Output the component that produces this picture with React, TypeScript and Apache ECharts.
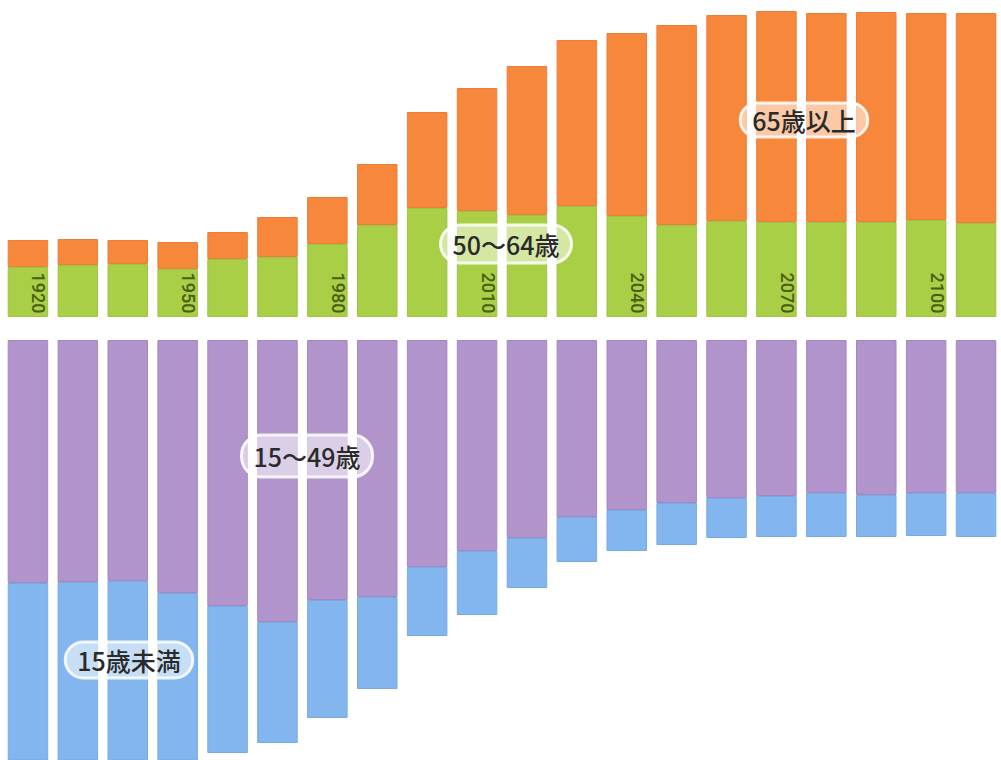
import React, { useEffect, useRef } from "react";
import * as echarts from "echarts";

const years = ["1920","1930","1940","1950","1960","1970","1980","1990","2000","2010","2020","2030","2040","2050","2060","2070","2080","2090","2100","2110"];
const age65plus = [5.4,5.2,4.8,5.4,5.4,8.0,9.4,12.2,19.2,24.6,29.8,33.2,36.6,40.0,41.2,42.2,41.8,42.0,41.4,42.0];
const age50to64 = [10.0,10.4,10.6,9.6,11.6,12.0,14.6,18.4,21.8,21.2,20.4,22.2,20.2,18.4,19.2,19.0,19.0,19.0,19.4,18.8];
const age15to49 = [48.6,48.4,48.2,50.6,53.2,56.4,52.0,51.4,45.4,42.2,39.6,35.4,34.0,32.6,31.6,31.2,30.6,31.0,30.6,30.6];
const under15 = [36.0,36.0,36.4,34.4,29.4,24.2,23.6,18.4,13.8,12.8,10.0,9.0,8.2,8.4,8.0,8.2,8.8,8.4,8.6,8.8];
const labeledYears = ["1920","1950","1980","2010","2040","2070","2100"];
const groupNames = ["65歳以上", "50～64歳", "15～49歳", "15歳未満"];

const COLORS = {
  orange: "#F6873B",
  green: "#A9CF47",
  purple: "#B094CB",
  blue: "#83B6EE",
};

export default function App() {
  const ref = useRef<HTMLDivElement>(null);
  useEffect(() => {
    document.body.style.margin = "0";
    const chart = echarts.init(ref.current!, null, { renderer: "svg" });
    const bw = 40.5;
    const xAxisBase = {
      type: "category",
      data: years,
      show: false,
      axisLine: { show: false },
      axisTick: { show: false },
      axisLabel: { show: false },
    };
    const yAxisBase = {
      type: "value",
      show: false,
      min: 0,
      splitLine: { show: false },
    };
    chart.setOption({
      animation: false,
      backgroundColor: "#FFFFFF",
      grid: [
        { left: 3, width: 1007, top: 0, height: 317 },
        { left: 3, width: 1007, top: 340, height: 420 },
      ],
      xAxis: [
        { ...xAxisBase, gridIndex: 0 },
        { ...xAxisBase, gridIndex: 1 },
      ],
      yAxis: [
        { ...yAxisBase, gridIndex: 0, max: 63.4 },
        { ...yAxisBase, gridIndex: 1, max: 84, inverse: true },
      ],
      series: [
        {
          name: groupNames[1], type: "bar", stack: "up", xAxisIndex: 0, yAxisIndex: 0,
          barWidth: bw, data: age50to64,
          itemStyle: { color: COLORS.green, borderColor: "#9EC244", borderWidth: 1 },
        },
        {
          name: groupNames[0], type: "bar", stack: "up", xAxisIndex: 0, yAxisIndex: 0,
          barWidth: bw, data: age65plus,
          itemStyle: { color: COLORS.orange, borderColor: "#EA7F3C", borderWidth: 1 },
        },
        {
          name: groupNames[2], type: "bar", stack: "down", xAxisIndex: 1, yAxisIndex: 1,
          barWidth: bw, data: age15to49,
          itemStyle: { color: COLORS.purple, borderColor: "#A487BF", borderWidth: 1 },
        },
        {
          name: groupNames[3], type: "bar", stack: "down", xAxisIndex: 1, yAxisIndex: 1,
          barWidth: bw, data: under15,
          itemStyle: { color: COLORS.blue, borderColor: "#78AAE2", borderWidth: 1 },
        },
      ],
    });

    const baseY = chart.convertToPixel({ yAxisIndex: 0 }, 0) as number;
    const yearTexts = labeledYears.map((y, i) => {
      const x = chart.convertToPixel({ xAxisIndex: 0 }, y) as number;
      return {
        type: "text",
        id: "yr" + i,
        x: x + 11,
        y: baseY - 24,
        rotation: -Math.PI / 2,
        z: 10,
        style: {
          text: y,
          fontSize: 18,
          fontWeight: 500,
          fontFamily: "Roboto, 'Noto Sans', sans-serif",
          fill: "#4B5C14",
          align: "center",
          verticalAlign: "middle",
        },
      };
    });

    const pill = (id: string, text: string, x: number, y: number, bg: string, pad: number[]) => ({
      type: "text",
      id,
      x,
      y,
      z: 20,
      style: {
        text,
        fontSize: 25,
        fontWeight: 500,
        lineHeight: 26,
        fontFamily: "'Noto Sans CJK JP', 'Noto Sans', sans-serif",
        fill: "#2A2A2A",
        align: "center",
        verticalAlign: "middle",
        backgroundColor: bg,
        borderColor: "rgba(255,255,255,0.85)",
        borderWidth: 1.5,
        borderRadius: 20,
        padding: pad,
      },
    });

    chart.setOption({
      graphic: [
        ...yearTexts,
        pill("p65", groupNames[0], 804, 120, "rgba(255,255,255,0.55)", [4, 12]),
        pill("p50", groupNames[1], 506, 244, "rgba(255,255,255,0.5)", [6, 12]),
        pill("p15", groupNames[2], 307, 456, "rgba(255,255,255,0.55)", [8, 12]),
        pill("pu15", groupNames[3], 129, 660, "rgba(255,255,255,0.55)", [5, 12]),
      ],
    });

    return () => chart.dispose();
  }, []);
  return <div ref={ref} style={{ width: 1001, height: 760 }} />;
}
